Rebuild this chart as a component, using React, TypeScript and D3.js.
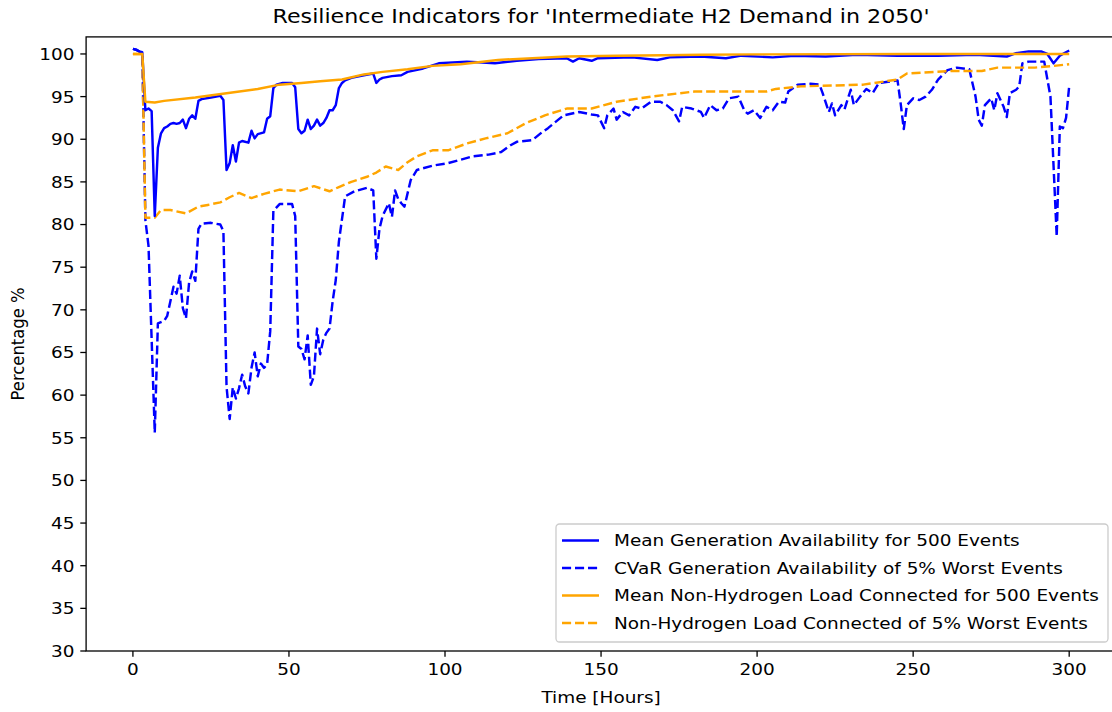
import React from "react";
import * as d3 from "d3";

// ---- data ----
const genMeanHours = [0,1,2,3,4,5,6,7,8,9,10,11,12,13,14,15,16,17,18,19,20,21,22,25,28,29,30,31,32,33,34,35,37,38,39,40,42,43,44,45,46,48,51,52,53,54,55,56,57,58,59,60,61,62,63,64,65,66,67,68,70,74,77,78,79,80,83,86,88,93,98,107,112,116,123,130,139,141,143,147,149,160,168,172,182,190,195,205,212,222,232,245,258,270,280,283,287,291,293,295,297,300];
const genMeanValues = [100.6,100.5,100.3,100.2,93.4,93.6,93.3,81.0,89.0,90.7,91.3,91.5,91.8,91.9,91.8,91.9,92.3,91.3,92.4,92.8,92.4,94.5,94.7,94.9,95.1,94.6,86.4,87.2,89.3,87.4,89.6,89.8,89.6,91.0,90.1,90.6,90.8,92.4,92.7,96.0,96.4,96.6,96.6,96.1,91.2,90.7,91.0,92.3,91.2,91.6,92.3,91.6,91.9,92.5,93.4,93.4,94.0,96.0,96.6,96.9,97.2,97.5,97.7,96.6,97.0,97.2,97.4,97.5,97.9,98.3,98.9,99.1,99.0,98.9,99.2,99.4,99.5,99.1,99.5,99.2,99.5,99.6,99.3,99.6,99.7,99.5,99.8,99.6,99.8,99.7,99.9,99.8,99.8,99.9,99.7,100.1,100.3,100.3,100.0,98.9,99.8,100.4];

const genCvarHours = [0,1,2,3,4,5,7,8,10,11,13,14,15,16,17,18,19,20,21,22,25,28,29,30,31,32,33,34,35,36,37,38,39,40,41,42,43,44,45,47,51,52,53,54,55,56,57,58,59,60,61,62,63,64,65,66,68,71,75,77,78,79,80,82,83,84,85,86,87,89,91,96,101,105,109,114,118,121,123,128,131,133,138,143,147,149,151,152,154,155,157,159,161,163,166,169,171,173,175,176,179,182,183,185,187,189,191,194,196,197,199,201,203,205,207,209,210,213,217,220,221,223,224,225,227,228,230,231,233,235,237,239,243,245,246,247,248,250,252,254,256,258,261,264,268,270,271,272,273,275,276,277,278,279,280,281,283,284,285,287,292,294,296,297,298,299,300];
const genCvarValues = [100.6,100.5,100.3,100.0,80.5,77.5,55.6,68.4,68.7,69.3,72.7,71.9,74.0,70.2,69.0,73.2,74.5,73.4,79.5,80.1,80.2,80.0,79.2,61.0,57.2,60.9,59.6,60.8,62.4,61.0,60.2,63.2,65.0,62.2,63.7,63.2,63.6,67.5,81.6,82.4,82.4,81.0,65.7,65.4,64.2,67.0,61.2,62.2,67.8,64.8,66.5,67.3,67.8,71.0,73.5,78.0,83.3,83.9,84.3,84.0,76.0,79.5,81.0,82.5,80.9,84.0,83.0,82.5,82.1,85.2,86.4,86.9,87.2,87.6,88.0,88.2,88.5,89.3,89.7,89.9,90.8,91.3,92.8,93.2,92.9,92.8,91.3,92.8,93.6,92.3,93.2,92.8,93.8,93.6,94.4,94.4,94.0,93.4,92.1,93.8,93.6,93.2,92.5,94.0,93.4,93.6,94.8,95.0,93.3,93.0,93.4,92.5,93.8,93.4,94.4,94.3,95.6,96.4,96.5,96.4,95.4,93.2,94.2,92.8,94.0,93.5,95.8,94.0,95.0,95.9,95.4,96.6,96.8,96.9,94.2,91.2,94.0,94.8,94.6,95.0,95.8,97.0,98.1,98.4,98.2,95.0,92.3,91.6,94.0,94.8,93.4,95.4,94.6,93.8,92.6,95.4,95.8,96.2,98.9,99.1,99.1,95.0,78.6,91.5,91.3,92.5,96.2];

const loadMeanHours = [0,1,2,3,4,7,10,20,30,40,47,54,60,67,74,80,88,96,105,117,128,139,155,170,182,200,250,300];
const loadMeanValues = [100.0,100.0,100.0,100.0,94.4,94.3,94.5,94.9,95.4,95.9,96.4,96.6,96.8,97.0,97.6,97.9,98.2,98.6,98.8,99.3,99.5,99.7,99.8,99.85,99.9,99.95,100.0,100.0];

const loadCvarHours = [0,3,4,7,9,12,17,21,24,28,31,34,38,42,47,53,58,63,66,70,75,78,81,85,88,91,96,101,107,113,120,126,132,139,147,155,166,180,203,206,214,234,245,248,262,272,277,289,295,300];
const loadCvarValues = [100.0,100.0,80.8,80.8,81.7,81.7,81.3,82.1,82.3,82.6,83.2,83.7,83.1,83.6,84.1,83.9,84.5,83.9,84.4,85.0,85.6,86.1,86.8,86.4,87.3,88.0,88.7,88.7,89.5,90.1,90.7,91.9,92.8,93.6,93.6,94.4,95.0,95.6,95.6,95.9,96.2,96.4,97.0,97.7,98.0,98.0,98.4,98.4,98.6,98.8];

const seriesLabels = [
  "Mean Generation Availability for 500 Events",
  "CVaR Generation Availability of 5% Worst Events",
  "Mean Non-Hydrogen Load Connected for 500 Events",
  "Non-Hydrogen Load Connected of 5% Worst Events",
];
const xTicks = [0, 50, 100, 150, 200, 250, 300];
const yTicks = [30, 35, 40, 45, 50, 55, 60, 65, 70, 75, 80, 85, 90, 95, 100];
const titleText = "Resilience Indicators for 'Intermediate H2 Demand in 2050'";
const xLabelText = "Time [Hours]";
const yLabelText = "Percentage %";

// ---- layout ----
const W = 1112, H = 712;
const left = 86.1, right = 1116, top = 36.9, bottom = 651;
const FONT = "'DejaVu Sans', sans-serif";
const FS = 16.4;
const SX = 1.125; // the reference text is horizontally stretched
const BLUE = "#0000ff", ORANGE = "#ffa500";
const DASH = "9.1,3.9";
const LW = 2.45;

function T(props: { x: number; y: number; fs?: number; anchor?: string; dy?: string; rotate?: number; children: React.ReactNode }) {
  const { x, y, fs = FS, anchor = "start", dy, rotate, children } = props;
  const tr = `translate(${x},${y}) scale(${SX},1)` + (rotate ? ` rotate(${rotate})` : "");
  return (
    <text transform={tr} fontSize={fs} textAnchor={anchor} dy={dy} fill="#000">
      {children}
    </text>
  );
}

export default function App() {
  const x = d3.scaleLinear().domain([-15, 315]).range([left, right]);
  const y = d3.scaleLinear().domain([30, 102]).range([bottom, top]);

  const mk = (hs: number[], vs: number[]) =>
    d3.line<number>().x((_, i) => x(hs[i])).y((v) => y(v))(vs) || "";

  const series = [
    { d: mk(genMeanHours, genMeanValues), color: BLUE, dash: undefined },
    { d: mk(genCvarHours, genCvarValues), color: BLUE, dash: DASH },
    { d: mk(loadMeanHours, loadMeanValues), color: ORANGE, dash: undefined },
    { d: mk(loadCvarHours, loadCvarValues), color: ORANGE, dash: DASH },
  ];

  const tickLen = 5.8;
  const legL = 556, legR = 1108, legT = 524, legB = 642;
  const rowY = [540.5, 568, 595.5, 623];

  return (
    <svg
      width={W}
      height={H}
      style={{ position: "absolute", left: 0, top: 0, background: "#fff" }}
      fontFamily={FONT}
    >
      <rect x={0} y={0} width={W} height={H} fill="#fff" />
      <defs>
        <clipPath id="plotclip">
          <rect x={left} y={top} width={right - left} height={bottom - top} />
        </clipPath>
      </defs>
      <g clipPath="url(#plotclip)">
        {[series[1], series[3], series[0], series[2]].map((s, i) => (
          <path
            key={i}
            d={s.d}
            fill="none"
            stroke={s.color}
            strokeWidth={LW}
            strokeDasharray={s.dash}
            strokeLinejoin="round"
          />
        ))}
      </g>
      {/* spines */}
      <rect x={left} y={top} width={right - left} height={bottom - top} fill="none" stroke="#000" strokeWidth={1.3} />
      {/* x ticks */}
      {xTicks.map((t) => (
        <g key={"x" + t}>
          <line x1={x(t)} x2={x(t)} y1={bottom} y2={bottom + tickLen} stroke="#000" strokeWidth={1.3} />
          <T x={x(t)} y={bottom + 24} anchor="middle">{t}</T>
        </g>
      ))}
      {/* y ticks */}
      {yTicks.map((t) => (
        <g key={"y" + t}>
          <line x1={left - tickLen} x2={left} y1={y(t)} y2={y(t)} stroke="#000" strokeWidth={1.3} />
          <T x={left - tickLen - 5.8} y={y(t)} dy="0.36em" anchor="end">{t}</T>
        </g>
      ))}
      <T x={(left + right) / 2} y={23} fs={19.7} anchor="middle">{titleText}</T>
      <T x={(left + right) / 2} y={703} anchor="middle">{xLabelText}</T>
      <T x={24} y={(top + bottom) / 2} anchor="middle" rotate={-90}>{yLabelText}</T>
      {/* legend */}
      <rect x={legL} y={legT} width={legR - legL} height={legB - legT} rx={3.5} fill="#fff" fillOpacity={0.8} stroke="#cccccc" strokeWidth={1.3} />
      {seriesLabels.map((lab, i) => (
        <g key={"l" + i}>
          <line x1={562} x2={599} y1={rowY[i]} y2={rowY[i]} stroke={series[i].color} strokeWidth={LW} strokeDasharray={series[i].dash} />
          <T x={614} y={rowY[i]} dy="0.36em">{lab}</T>
        </g>
      ))}
    </svg>
  );
}
